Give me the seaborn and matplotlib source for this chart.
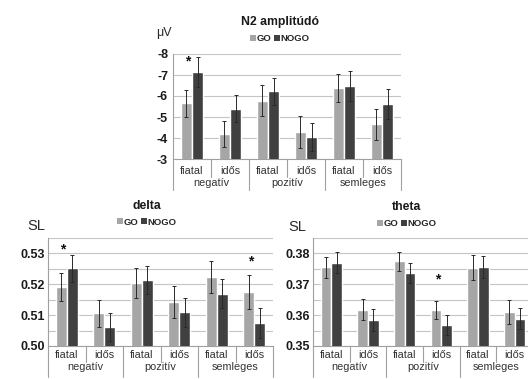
import matplotlib
matplotlib.use("Agg")
import matplotlib.pyplot as plt
from matplotlib.patches import Patch
from matplotlib.lines import Line2D
import numpy as np
import pandas as pd
import seaborn as sns

sns.set_style("white")
plt.rcParams["font.family"] = ["Liberation Sans", "DejaVu Sans"]

groups = ["negatív", "pozitív", "semleges"]
ages = ["fiatal", "idős"]
conds = ["GO", "NOGO"]
colors = ["#a6a6a6", "#404040"]

# N2 amplitude (uV)
n2_go = [-5.65, -4.20, -5.78, -4.28, -6.38, -4.65]
n2_nogo = [-7.15, -5.40, -6.22, -4.05, -6.47, -5.63]
n2_go_err = [0.65, 0.62, 0.75, 0.77, 0.68, 0.73]
n2_nogo_err = [0.72, 0.66, 0.66, 0.68, 0.72, 0.72]
n2_stars = [(0, -7.63)]

# delta SL
delta_go = [0.5191, 0.5106, 0.5204, 0.5143, 0.5224, 0.5175]
delta_nogo = [0.5252, 0.5062, 0.5213, 0.5109, 0.5169, 0.5075]
delta_go_err = [0.0044, 0.0043, 0.0050, 0.0052, 0.0052, 0.0055]
delta_nogo_err = [0.0044, 0.0046, 0.0046, 0.0048, 0.0047, 0.0048]
delta_stars = [(0, 0.5314), (5, 0.5274)]

# theta SL
theta_go = [0.3755, 0.3617, 0.3774, 0.3617, 0.3754, 0.3611]
theta_nogo = [0.3770, 0.3583, 0.3737, 0.3569, 0.3757, 0.3589]
theta_go_err = [0.0034, 0.0034, 0.0030, 0.0030, 0.0040, 0.0039]
theta_nogo_err = [0.0035, 0.0036, 0.0033, 0.0032, 0.0036, 0.0035]
theta_stars = [(3, 0.3716)]

W, H = 528, 380
fig = plt.figure(figsize=(W / 100, H / 100), dpi=100)


def px_axes(left, top, right, bottom):
    return fig.add_axes([left / W, 1 - bottom / H, (right - left) / W, (bottom - top) / H])


def draw_panel(ax, go, nogo, go_err, nogo_err, stars, ylim, major, minor, fmt,
               title, title_xy, unit, unit_xy, unit_size, tick_pad, rows):
    cats = [g + " " + a for g in groups for a in ages]
    df = pd.DataFrame({
        "cat": cats * 2,
        "cond": ["GO"] * 6 + ["NOGO"] * 6,
        "value": list(go) + list(nogo),
    })
    sns.barplot(data=df, x="cat", y="value", hue="cond", order=cats, hue_order=conds,
                palette=colors, width=0.59, errorbar=None, legend=False,
                saturation=1, ax=ax, zorder=3)
    for cont, err in zip(ax.containers, [go_err, nogo_err]):
        xs = [p.get_x() + p.get_width() / 2 for p in cont.patches]
        ys = [p.get_height() for p in cont.patches]
        ax.errorbar(xs, ys, yerr=err, fmt="none", ecolor="#2a2a2a", elinewidth=0.7,
                    capsize=1.6, capthick=0.7, zorder=4)
    for i, y in stars:
        ax.text(i - 0.1, y, "*", ha="center", va="center", fontsize=10,
                fontweight="bold", color="#111111", zorder=5)

    ax.set_ylim(*ylim)
    ax.set_xlim(-0.5, 5.5)
    ax.set_yticks(major)
    ax.set_yticklabels([fmt(v) for v in major])
    ax.set_yticks(minor, minor=True)
    ax.yaxis.grid(True, which="both", color="#c4c4c4", linewidth=0.8, zorder=0)
    ax.set_axisbelow(True)
    ax.tick_params(axis="y", which="both", length=0, pad=tick_pad, labelsize=9,
                   labelcolor="#1a1a1a")
    for lab in ax.get_yticklabels():
        lab.set_fontweight("bold")
    ax.set_xticks([])
    ax.set_xlabel("")
    ax.set_ylabel("")
    for s in ["top", "right"]:
        ax.spines[s].set_visible(False)
    ax.spines["left"].set_color("#a0a0a0")
    ax.spines["bottom"].set_color("#a0a0a0")
    ax.spines["left"].set_linewidth(0.8)
    ax.spines["bottom"].set_linewidth(0.8)

    # multi-level category axis
    h_px = ax.get_position().height * H
    tr = ax.get_xaxis_transform()
    r1, r2, short, long_ = rows
    for i in range(6):
        ax.text(i, -r1 / h_px, ages[i % 2], transform=tr, ha="center", va="center",
                fontsize=7.8, color="#333333")
    for j, g in enumerate(groups):
        ax.text(2 * j + 0.5, -r2 / h_px, g, transform=tr, ha="center", va="center",
                fontsize=7.8, color="#333333")
    for x in [0.5, 2.5, 4.5]:
        ax.add_line(Line2D([x, x], [0, -short / h_px], transform=tr, color="#a0a0a0",
                           linewidth=0.8, clip_on=False))
    for x in [-0.5, 1.5, 3.5, 5.5]:
        ax.add_line(Line2D([x, x], [0, -long_ / h_px], transform=tr, color="#a0a0a0",
                           linewidth=0.8, clip_on=False))

    fig.text(title_xy[0] / W, 1 - title_xy[1] / H, title, ha="center", va="center",
             fontsize=8.8, fontweight="bold", color="#1a1a1a")
    handles = [Patch(facecolor=c, edgecolor="none", label=l) for c, l in zip(colors, conds)]
    fig.legend(handles=handles, loc="center",
               bbox_to_anchor=(title_xy[0] / W, 1 - (title_xy[1] + 16) / H),
               ncol=2, frameon=False, handlelength=0.6, handleheight=0.6,
               handletextpad=0.1, columnspacing=0.25, borderpad=0, borderaxespad=0,
               prop={"weight": "bold", "size": 6.8})
    fig.text(unit_xy[0] / W, 1 - unit_xy[1] / H, unit, ha="left", va="center",
             fontsize=unit_size, color="#2a2a2a")


ax_n2 = px_axes(173, 54, 401, 159)
draw_panel(ax_n2, n2_go, n2_nogo, n2_go_err, n2_nogo_err, n2_stars,
           (-3, -8), [-8, -7, -6, -5, -4, -3], [], lambda v: f"{v:.0f}",
           "N2 amplitúdó", (280, 22.5), "μV", (156, 33), 9, 3.6, (12, 23.5, 18, 31))

ax_delta = px_axes(48, 238, 273, 346)
draw_panel(ax_delta, delta_go, delta_nogo, delta_go_err, delta_nogo_err, delta_stars,
           (0.50, 0.535), [0.50, 0.51, 0.52, 0.53], [0.505, 0.515, 0.525, 0.535],
           lambda v: f"{v:.2f}", "delta", (147, 206), "SL", (27, 226), 10.5, 2.2,
           (9.5, 21.5, 16, 31))

ax_theta = px_axes(313, 238, 533, 346)
draw_panel(ax_theta, theta_go, theta_nogo, theta_go_err, theta_nogo_err, theta_stars,
           (0.35, 0.385), [0.35, 0.36, 0.37, 0.38], [0.355, 0.365, 0.375, 0.385],
           lambda v: f"{v:.2f}", "theta", (407, 207.5), "SL", (288, 227), 10.5, 2.2,
           (9.5, 21.5, 16, 31))

fig.savefig("out.png", dpi=100)
